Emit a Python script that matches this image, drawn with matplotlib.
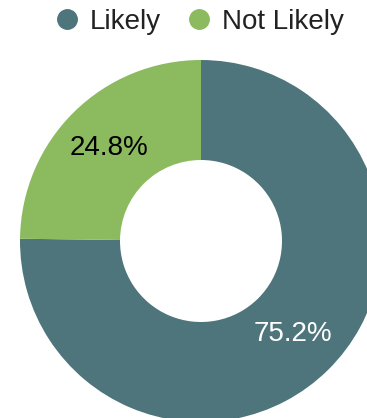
import matplotlib
matplotlib.use("Agg")
import matplotlib.pyplot as plt
from matplotlib.lines import Line2D

labels = ["Likely", "Not Likely"]
shares = [75.2, 24.8]
colors = ["#4e757b", "#8cba5e"]
pct_colors = ["white", "black"]

plt.rcParams["font.family"] = ["Liberation Sans", "DejaVu Sans"]

fig = plt.figure(figsize=(3.67, 4.18), dpi=100)
ax = fig.add_axes([0, 0, 1, 1])

# donut, clockwise from 12 o'clock
wedges, texts, autotexts = ax.pie(
    shares, colors=colors, startangle=90, counterclock=False,
    center=(201, 177), radius=181, frame=True,
    wedgeprops=dict(width=100, linewidth=0),
    autopct="%.1f%%", pctdistance=0.72,
    textprops=dict(fontsize=20),
)
for t, c in zip(autotexts, pct_colors):
    t.set_color(c)
ax.set_xlim(0, 367)
ax.set_ylim(0, 418)
ax.set_aspect("equal")
ax.axis("off")

handles = [Line2D([], [], marker="o", linestyle="", markersize=14,
                  markerfacecolor=c, markeredgecolor=c) for c in colors]
fig.legend(handles, labels, loc="center left",
           bbox_to_anchor=(56 / 367, 1 - 22 / 418),
           ncol=2, frameon=False, fontsize=20, borderpad=0, borderaxespad=0,
           handlelength=0.8, handletextpad=0.43, columnspacing=0.94,
           labelcolor="#222222")

fig.savefig("out.png", dpi=100)
